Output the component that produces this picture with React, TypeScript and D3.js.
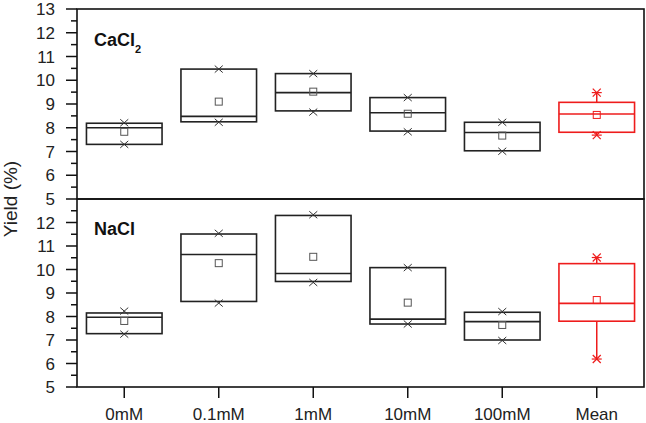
import * as d3 from 'd3';
import React from 'react';

const categories = ['0mM', '0.1mM', '1mM', '10mM', '100mM', 'Mean'];
const yTicksTop = [5, 6, 7, 8, 9, 10, 11, 12, 13];
const yTicksBottom = [5, 6, 7, 8, 9, 10, 11, 12];

// CaCl2 panel
const caQ1 = [7.3, 8.25, 8.71, 7.86, 7.03, 7.81];
const caMedian = [8.0, 8.48, 9.48, 8.63, 7.8, 8.58];
const caQ3 = [8.19, 10.47, 10.28, 9.27, 8.23, 9.07];
const caMean = [7.83, 9.1, 9.52, 8.59, 7.67, 8.54];
const caMin = [7.3, 8.23, 8.66, 7.83, 7.01, 7.69];
const caMax = [8.21, 10.47, 10.28, 9.27, 8.23, 9.48];

// NaCl panel
const naQ1 = [7.27, 8.64, 9.49, 7.68, 7.0, 7.8];
const naMedian = [7.97, 10.64, 9.83, 7.89, 7.78, 8.56];
const naQ3 = [8.15, 11.51, 12.3, 10.08, 8.18, 10.25];
const naMean = [7.81, 10.27, 10.54, 8.59, 7.64, 8.7];
const naMin = [7.25, 8.57, 9.45, 7.68, 6.98, 6.19];
const naMax = [8.23, 11.54, 12.33, 10.08, 8.21, 10.51];

const W = 646;
const H = 423;
const left = 77;
const right = 644;
const topY = 9;
const midY = 199;
const botY = 387;
const FONT = 'Arial, "Liberation Sans", sans-serif';

const x = d3.scaleBand<string>().domain(categories).range([left, right]);

const XMark = ({ cx, cy, color }: { cx: number; cy: number; color: string }) => (
  <g stroke={color} strokeWidth={1}>
    <line x1={cx - 4} y1={cy - 3.5} x2={cx + 4} y2={cy + 3.5} />
    <line x1={cx - 4} y1={cy + 3.5} x2={cx + 4} y2={cy - 3.5} />
  </g>
);

const Star = ({ cx, cy, color }: { cx: number; cy: number; color: string }) => (
  <g stroke={color} strokeWidth={1.2}>
    <line x1={cx - 4} y1={cy - 4} x2={cx + 4} y2={cy + 4} />
    <line x1={cx - 4} y1={cy + 4} x2={cx + 4} y2={cy - 4} />
    <line x1={cx - 5} y1={cy} x2={cx + 5} y2={cy} />
  </g>
);

type PanelProps = {
  y0: number;
  y1: number;
  ticks: number[];
  q1: number[];
  med: number[];
  q3: number[];
  mean: number[];
  mn: number[];
  mx: number[];
  label: React.ReactNode;
};

const Panel = ({ y0, y1, ticks, q1, med, q3, mean, mn, mx, label }: PanelProps) => {
  const y = d3.scaleLinear().domain([5, 13]).range([y1, y0]);
  const minor = d3.range(5.5, 13, 1);
  const bw = x.bandwidth() * 0.8;
  return (
    <g>
      {ticks.map(t => (
        <g key={t}>
          <line x1={left - 11} x2={left} y1={y(t)} y2={y(t)} stroke="#111" strokeWidth={1.5} />
          <text x={55} y={y(t)} dy="0.36em" textAnchor="end" fontSize={17} fontFamily={FONT} fill="#222">
            {t}
          </text>
        </g>
      ))}
      {minor.map(t => (
        <line key={t} x1={left - 6} x2={left} y1={y(t)} y2={y(t)} stroke="#111" strokeWidth={1.5} />
      ))}
      {label}
      {categories.map((c, i) => {
        const cx = (x(c) as number) + x.bandwidth() / 2;
        const isMean = c === 'Mean';
        const color = isMean ? '#ee1c1c' : '#222';
        return (
          <g key={c}>
            {isMean && (
              <g stroke={color} strokeWidth={1.5}>
                <line x1={cx} x2={cx} y1={y(q3[i])} y2={y(mx[i])} />
                <line x1={cx} x2={cx} y1={y(q1[i])} y2={y(mn[i])} />
              </g>
            )}
            <rect
              x={cx - bw / 2}
              y={y(q3[i])}
              width={bw}
              height={y(q1[i]) - y(q3[i])}
              fill="none"
              stroke={color}
              strokeWidth={1.6}
            />
            <line x1={cx - bw / 2} x2={cx + bw / 2} y1={y(med[i])} y2={y(med[i])} stroke={color} strokeWidth={1.6} />
            <rect x={cx - 3.5} y={y(mean[i]) - 3.5} width={7} height={7} fill="none" stroke={isMean ? color : '#555'} strokeWidth={1} />
            {isMean ? (
              <>
                <Star cx={cx} cy={y(mx[i])} color={color} />
                <Star cx={cx} cy={y(mn[i])} color={color} />
              </>
            ) : (
              <>
                <XMark cx={cx} cy={y(mx[i])} color="#333" />
                <XMark cx={cx} cy={y(mn[i])} color="#333" />
              </>
            )}
          </g>
        );
      })}
      <rect x={left} y={y0} width={right - left} height={y1 - y0} fill="none" stroke="#111" strokeWidth={1.6} />
    </g>
  );
};

export default function App() {
  return (
    <svg width={W} height={H} style={{ position: 'absolute', left: 0, top: 0, background: '#fff' }}>
      <Panel
        y0={topY}
        y1={midY}
        ticks={yTicksTop}
        q1={caQ1}
        med={caMedian}
        q3={caQ3}
        mean={caMean}
        mn={caMin}
        mx={caMax}
        label={
          <text x={94} y={46} fontSize={18} fontWeight="bold" fontFamily={FONT} fill="#111">
            CaCl<tspan dy={7} fontSize={11}>2</tspan>
          </text>
        }
      />
      <Panel
        y0={midY}
        y1={botY}
        ticks={yTicksBottom}
        q1={naQ1}
        med={naMedian}
        q3={naQ3}
        mean={naMean}
        mn={naMin}
        mx={naMax}
        label={
          <text x={94} y={235} fontSize={18} fontWeight="bold" fontFamily={FONT} fill="#111">
            NaCl
          </text>
        }
      />
      {categories.map(c => {
        const cx = (x(c) as number) + x.bandwidth() / 2;
        return (
          <g key={c}>
            <line x1={cx} x2={cx} y1={botY} y2={botY + 11} stroke="#111" strokeWidth={1.5} />
            <text x={cx} y={420} textAnchor="middle" fontSize={17} fontFamily={FONT} fill="#222">
              {c}
            </text>
          </g>
        );
      })}
      <text
        transform={`translate(17,${midY}) rotate(-90)`}
        textAnchor="middle"
        fontSize={19}
        fontFamily={FONT}
        fill="#222"
      >
        Yield (%)
      </text>
    </svg>
  );
}
